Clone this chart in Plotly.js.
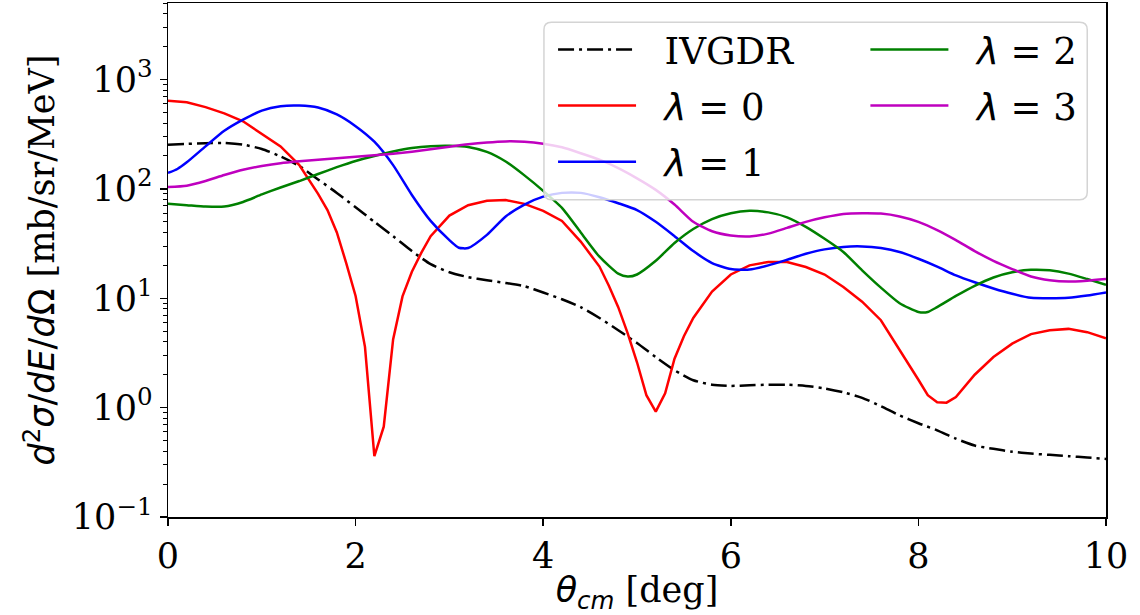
<!DOCTYPE html>
<html><head><meta charset="utf-8">
<script src="https://cdn.plot.ly/plotly-3.0.1.min.js"></script>
<style>html,body{margin:0;padding:0;background:#fff;}#chart{width:1140px;height:615px;}</style>
</head><body><div id="chart"></div>
<script>
// ---- data ----
const SANS = '<span style="font-family:DejaVu Sans">';
const seriesNames = ['IVGDR',
  SANS + '<i>λ</i> =</span> 0', SANS + '<i>λ</i> =</span> 1',
  SANS + '<i>λ</i> =</span> 2', SANS + '<i>λ</i> =</span> 3'];

const thetaIVGDR = [0,0.2,0.4,0.6,0.8,1.0,1.2,1.4,1.6,1.8,2.0,2.2,2.4,2.6,2.8,3.0,3.2,3.4,3.6,3.8,4.0,4.2,4.4,4.6,4.8,5.0,5.2,5.4,5.6,5.8,6.0,6.2,6.4,6.6,6.8,7.0,7.2,7.4,7.6,7.8,8.0,8.2,8.4,8.6,8.8,9.0,9.2,9.4,9.6,9.8,10];
const ivgdr = [254,258,262,263,254,232,198,162,122,92,68,50,37,27,20.5,17.3,15.6,14.6,13.8,12.9,11.3,9.8,8.3,6.6,5.1,3.9,2.9,2.2,1.78,1.62,1.58,1.6,1.62,1.62,1.58,1.5,1.38,1.23,1.03,0.85,0.72,0.62,0.52,0.45,0.42,0.395,0.38,0.37,0.36,0.35,0.34];

const thetaL0 = [0,0.2,0.4,0.6,0.8,1.0,1.2,1.4,1.6,1.7,1.8,1.9,2.0,2.1,2.2,2.3,2.4,2.5,2.6,2.7,2.8,3.0,3.2,3.4,3.6,3.8,4.0,4.2,4.4,4.6,4.7,4.8,4.9,5.0,5.1,5.2,5.3,5.4,5.5,5.6,5.8,6.0,6.2,6.4,6.6,6.8,7.0,7.2,7.4,7.6,7.8,8.0,8.1,8.2,8.3,8.4,8.6,8.8,9.0,9.2,9.4,9.6,9.8,10];
const lambda0 = [640,620,560,490,415,320,245,165,90,64,40,21,10.5,3.6,0.36,0.67,4.2,10.4,17.5,26,37,57,71,78,79,73,63,51,33,19.5,13,8.3,4.8,2.6,1.3,0.92,1.35,2.8,4.5,6.6,11.5,16.5,20,21.5,21.5,19.3,16.5,12.7,9.3,6.3,3.4,1.8,1.3,1.12,1.11,1.25,2.0,2.9,3.85,4.7,5.1,5.25,4.9,4.3];

const thetaL1 = [0,0.1,0.2,0.4,0.6,0.8,1.0,1.2,1.4,1.6,1.8,2.0,2.2,2.4,2.6,2.8,3.0,3.1,3.2,3.4,3.6,3.8,4.0,4.2,4.4,4.6,4.8,5.0,5.2,5.4,5.6,5.8,6.0,6.2,6.4,6.6,6.8,7.0,7.2,7.4,7.6,7.8,8.0,8.2,8.4,8.6,8.8,9.0,9.2,9.4,9.6,9.8,10];
const lambda1 = [140,152,175,245,340,430,520,570,578,555,480,375,270,165,88,51,34,29,28.8,38,56,72,85,92,92,84,74,64,50,37,27,21,18.5,18.3,20,22.5,25.5,28,29.5,29.8,28.8,26.5,23,19.5,16.2,14,12.3,11,10.1,10.0,10.1,10.6,11.3];

const thetaL2 = [0,0.2,0.4,0.6,0.8,1.0,1.2,1.4,1.6,1.8,2.0,2.2,2.4,2.6,2.8,3.0,3.2,3.4,3.6,3.8,4.0,4.2,4.4,4.6,4.8,4.9,5.0,5.2,5.4,5.6,5.8,6.0,6.2,6.4,6.6,6.8,7.0,7.2,7.4,7.6,7.8,8.0,8.1,8.2,8.4,8.6,8.8,9.0,9.2,9.4,9.6,9.8,10];
const lambda2 = [73,71,69,69,76,89,103,118,137,158,180,200,220,237,246,248,242,218,178,133,96,67,40,24,16.8,15.8,16.5,22,32,43,53,60,63,61,55,45,35,26.5,18,12.5,9,7.5,7.5,8.3,10.5,13,15.5,17.3,18.2,18.0,16.8,15,13.3];

const thetaL3 = [0,0.2,0.4,0.6,0.8,1.0,1.2,1.4,1.6,1.8,2.0,2.2,2.4,2.6,2.8,3.0,3.2,3.4,3.6,3.8,4.0,4.2,4.4,4.6,4.8,5.0,5.2,5.4,5.6,5.8,6.0,6.2,6.4,6.6,6.8,7.0,7.2,7.4,7.6,7.8,8.0,8.2,8.4,8.6,8.8,9.0,9.2,9.4,9.6,9.8,10];
const lambda3 = [104,107,118,134,150,162,172,179,185,191,197,203,210,219,230,243,256,266,272,270,259,240,212,185,155,125,98,72,50,41,37.5,36.7,39,44,50,55,59,60,59.5,56,50,42,34,27,22,18.5,15.8,14.6,14.2,14.5,15];

const xTickVals = [0,2,4,6,8,10];
const yTickVals = [0.1,1,10,100,1000];
const yTickText = ['10<sup>−1</sup>','10<sup>0</sup>','10<sup>1</sup>','10<sup>2</sup>','10<sup>3</sup>'];
const yMinorVals = [];
yTickVals.forEach(d => { for (let k = 2; k <= 9; k++) yMinorVals.push(d*k); });

// ---- figure ----
const LW = 2.5;
const pad = '\u00a0\u00a0';
function tr(x, y, name, color, legendRef, shape, dash) {
  return {x: x, y: y, name: pad + name, type: 'scatter', mode: 'lines',
    line: {color: color, width: LW, dash: dash || 'solid', shape: shape, smoothing: 0.6},
    legend: legendRef, legendgroup: 'g' + color};
}
const traces = [
  tr(thetaIVGDR, ivgdr, seriesNames[0], '#000000', 'legend', 'spline', '16px,5px,3px,5px'),
  tr(thetaL0, lambda0, seriesNames[1], '#ff0000', 'legend', 'linear'),
  tr(thetaL1, lambda1, seriesNames[2], '#0000ff', 'legend', 'spline'),
  tr(thetaL2, lambda2, seriesNames[3], '#008000', 'legend2', 'spline'),
  tr(thetaL3, lambda3, seriesNames[4], '#bf00bf', 'legend2', 'spline')
];

// legend frame (paper coordinates) with rounded corners
const fx0 = 0.4008, fx1 = 0.980, fy0 = 0.6171, fy1 = 0.9626, rx = 0.008, ry = 0.0145;
const framePath = `M${fx0+rx},${fy1} L${fx1-rx},${fy1} Q${fx1},${fy1} ${fx1},${fy1-ry} L${fx1},${fy0+ry} Q${fx1},${fy0} ${fx1-rx},${fy0} L${fx0+rx},${fy0} Q${fx0},${fy0} ${fx0},${fy0+ry} L${fx0},${fy1-ry} Q${fx0},${fy1} ${fx0+rx},${fy1} Z`;

const FS = 35;
const legendCommon = {
  orientation: 'v', xanchor: 'left', yanchor: 'top',
  bgcolor: 'rgba(0,0,0,0)', borderwidth: 0,
  font: {family: 'DejaVu Serif', size: 37, color: '#000'},
  itemwidth: 78, tracegroupgap: 5, traceorder: 'grouped'
};
const layout = {
  width: 1140, height: 615,
  margin: {l: 168, r: 34, t: 3, b: 98},
  paper_bgcolor: '#ffffff', plot_bgcolor: '#ffffff',
  font: {family: 'DejaVu Serif', size: FS, color: '#000'},
  showlegend: true,
  legend: Object.assign({}, legendCommon, {x: 0.4105, y: 0.969}),
  legend2: Object.assign({}, legendCommon, {x: 0.7435, y: 0.969}),
  shapes: [{type: 'path', xref: 'paper', yref: 'paper', path: framePath, layer: 'above',
    fillcolor: 'rgba(255,255,255,0.8)', line: {color: '#d4d4d4', width: 1.5}}],
  xaxis: {
    range: [0, 10], tickmode: 'array', tickvals: xTickVals,
    ticks: 'outside', ticklen: 7, tickwidth: 1.5, tickcolor: '#000',
    showline: true, linecolor: '#000', linewidth: 1.5, mirror: true,
    showgrid: false, zeroline: false,
    tickfont: {family: 'DejaVu Serif', size: FS},
    title: {text: SANS + '<i>θ</i><sub><i>cm</i></sub></span> [deg]', font: {family: 'DejaVu Serif', size: FS}, standoff: 9}
  },
  yaxis: {
    type: 'log', range: [-1, 3.70], tickmode: 'array', tickvals: yTickVals, ticktext: yTickText,
    ticks: 'outside', ticklen: 7, tickwidth: 1.5, tickcolor: '#000',
    minor: {tickmode: 'array', tickvals: yMinorVals, ticks: 'outside', ticklen: 4, tickwidth: 1, tickcolor: '#000', showgrid: false},
    showline: true, linecolor: '#000', linewidth: 1.5, mirror: true,
    showgrid: false, zeroline: false,
    tickfont: {family: 'DejaVu Serif', size: FS},
    title: {text: SANS + '<i>d</i><sup>2</sup><i>σ</i>/<i>dE</i>/<i>d</i>Ω</span> [mb/sr/MeV]', font: {family: 'DejaVu Serif', size: FS}, standoff: 6}
  }
};
Plotly.newPlot('chart', traces, layout, {staticPlot: true, displayModeBar: false});
</script>
</body></html>
